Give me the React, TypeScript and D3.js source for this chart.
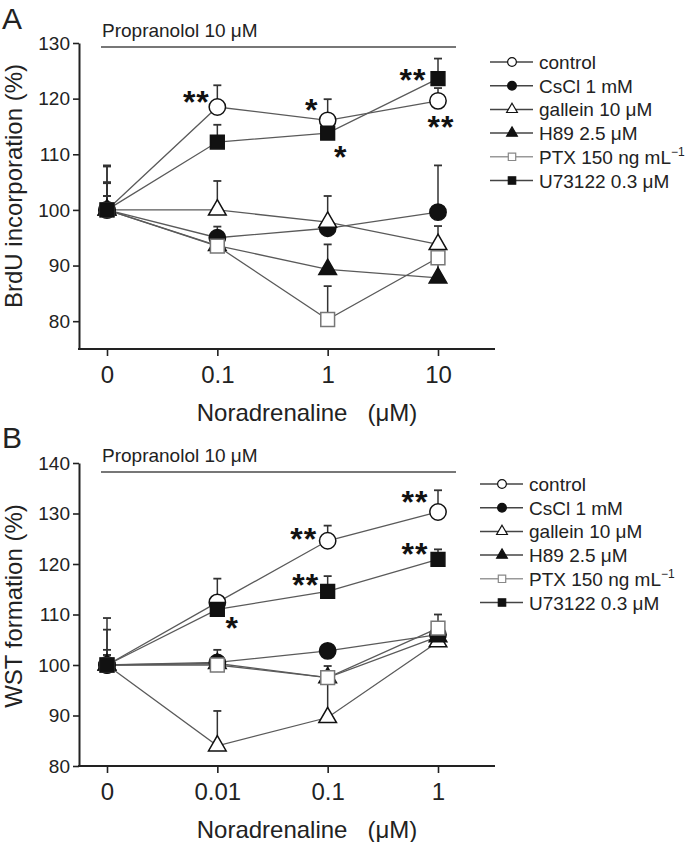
import { useEffect, useRef } from 'react'
import * as d3 from 'd3'

const W = 686
const H = 842
const FONT = 'Liberation Sans, Arial, Helvetica, sans-serif'

// series (same order in both panels)
const seriesNames = ['control', 'CsCl 1 mM', 'gallein 10 μM', 'H89 2.5 μM', 'PTX 150 ng mL', 'U73122 0.3 μM']
const seriesShapes = ['circle', 'circle', 'triangle', 'triangle', 'square', 'square']
const seriesFilled = [false, true, false, true, false, true]

// panel A: BrdU incorporation
const dosesA = ['0', '0.1', '1', '10']
const yTicksA = [80, 90, 100, 110, 120, 130]
const meanA = [
  [100, 118.5, 116.1, 119.6],
  [100, 95.0, 96.7, 99.6],
  [100, 100.0, 97.8, 93.8],
  [100, 93.6, 89.3, 87.8],
  [100, 93.5, 80.3, 91.4],
  [100, 112.2, 113.8, 123.6],
]
const errA = [
  [2.5, 3.9, 3.8, 2.3],
  [8.0, 2.0, 1.0, 8.4],
  [5.0, 5.2, 4.7, 3.3],
  [2.5, 1.5, 4.5, 3.9],
  [4.8, 1.0, 6.0, 1.0],
  [7.8, 3.1, 2.0, 3.6],
]
const starsA = [
  { series: 0, dose: '0.1', label: '**' },
  { series: 0, dose: '1', label: '*' },
  { series: 5, dose: '10', label: '**' },
  { series: 0, dose: '10', label: '**' },
  { series: 5, dose: '1', label: '*' },
]

// panel B: WST formation
const dosesB = ['0', '0.01', '0.1', '1']
const yTicksB = [80, 90, 100, 110, 120, 130, 140]
const meanB = [
  [100, 112.4, 124.6, 130.3],
  [100, 100.5, 102.8, 106.0],
  [100, 84.0, 89.6, 104.6],
  [100, 100.3, 97.5, 105.6],
  [100, 100.0, 97.5, 107.3],
  [100, 111.0, 114.6, 120.9],
]
const errB = [
  [9.3, 4.7, 3.0, 4.3],
  [3.0, 2.5, 1.0, 2.0],
  [2.0, 6.9, 9.0, 2.0],
  [2.0, 1.5, 1.0, 2.5],
  [1.0, 1.5, 2.3, 2.7],
  [7.0, 2.0, 3.0, 2.0],
]
const starsB = [
  { series: 0, dose: '0.1', label: '**' },
  { series: 0, dose: '1', label: '**' },
  { series: 5, dose: '1', label: '**' },
  { series: 5, dose: '0.1', label: '**' },
  { series: 5, dose: '0.01', label: '*' },
]

const symbolFor = (shape: string) =>
  shape === 'circle' ? d3.symbolCircle : shape === 'triangle' ? d3.symbolTriangle : d3.symbolSquare

export default function App() {
  const svgRef = useRef<SVGSVGElement>(null)

  useEffect(() => {
    if (!svgRef.current) return
    const svg = d3.select(svgRef.current)
    svg.selectAll('*').remove()
    svg.append('rect').attr('width', W).attr('height', H).attr('fill', '#fff')

    const panels = [
      {
        letter: 'A', letterY: 29, doses: dosesA, means: meanA, errs: errA, ticks: yTicksA,
        yDomain: [75, 130], yRange: [349, 43], yTitle: 'BrdU incorporation (%)', yTitleY: 186,
        propLineY: 47, propTextY: 37, stars: starsA,
        starOffsets: [[-21, -12], [-16, -17], [-25, -6], [3, 19], [13, 17]],
        legendX: 490, legendY: 62,
      },
      {
        letter: 'B', letterY: 448, doses: dosesB, means: meanB, errs: errB, ticks: yTicksB,
        yDomain: [80, 140], yRange: [766, 463], yTitle: 'WST formation (%)', yTitleY: 606,
        propLineY: 472, propTextY: 462, stars: starsB,
        starOffsets: [[-24, -9], [-23, -17], [-23, -12], [-22, -13], [15, 12]],
        legendX: 480, legendY: 484,
      },
    ]

    const axisLeft = 79
    const axisRight = 495

    panels.forEach((p) => {
      const g = svg.append('g').attr('font-family', FONT).attr('fill', '#222')
      const x = d3.scalePoint<string>().domain(p.doses).range([107, 438])
      const y = d3.scaleLinear().domain(p.yDomain).range(p.yRange)
      const xBase = p.yRange[0]

      // panel letter
      g.append('text').attr('x', 2).attr('y', p.letterY).attr('font-size', 30).text(p.letter)

      // propranolol bar
      g.append('line')
        .attr('x1', 101).attr('x2', 456).attr('y1', p.propLineY).attr('y2', p.propLineY)
        .attr('stroke', '#777').attr('stroke-width', 2)
      g.append('text').attr('x', 102).attr('y', p.propTextY).attr('font-size', 19)
        .text('Propranolol 10 μM')

      // y axis
      const yAxis = d3.axisLeft(y).tickValues(p.ticks).tickSize(6).tickSizeOuter(0).tickPadding(3)
      g.append('g')
        .attr('transform', `translate(${axisLeft},0)`)
        .call(yAxis)
        .call((a) => a.select('.domain').attr('stroke', '#222').attr('stroke-width', 2))
        .call((a) => a.selectAll('.tick line').attr('stroke', '#222').attr('stroke-width', 1.6))
        .call((a) => a.selectAll('.tick text').attr('fill', '#222').attr('font-size', 19).attr('font-family', FONT))

      // x axis
      const xAxis = d3.axisBottom(x).tickSize(7).tickPadding(10)
      g.append('g')
        .attr('transform', `translate(0,${xBase})`)
        .call(xAxis)
        .call((a) => a.select('.domain').remove())
        .call((a) => a.selectAll('.tick line').attr('stroke', '#222').attr('stroke-width', 1.6))
        .call((a) => a.selectAll('.tick text').attr('fill', '#222').attr('font-size', 24).attr('font-family', FONT))
      g.append('line')
        .attr('x1', axisLeft - 1).attr('x2', axisRight).attr('y1', xBase).attr('y2', xBase)
        .attr('stroke', '#222').attr('stroke-width', 2)

      g.append('text')
        .attr('x', 307).attr('y', xBase + 72)
        .attr('text-anchor', 'middle').attr('font-size', 24)
        .style('white-space', 'pre')
        .text('Noradrenaline   (μM)')

      g.append('text')
        .attr('transform', `translate(22,${p.yTitleY}) rotate(-90)`)
        .attr('text-anchor', 'middle').attr('font-size', 24)
        .text(p.yTitle)

      // connecting lines
      const line = d3.line<number>().x((_, i) => x(p.doses[i])!).y((d) => y(d))
      p.means.forEach((m) => {
        g.append('path').attr('d', line(m)).attr('fill', 'none')
          .attr('stroke', '#5a5a5a').attr('stroke-width', 1.3)
      })

      // error bars (upper only)
      p.means.forEach((m, si) => {
        m.forEach((v, i) => {
          const cx = x(p.doses[i])!
          const top = y(v + p.errs[si][i])
          g.append('line').attr('x1', cx).attr('x2', cx).attr('y1', y(v)).attr('y2', top)
            .attr('stroke', '#333').attr('stroke-width', 1.5)
          g.append('line').attr('x1', cx - 4).attr('x2', cx + 4).attr('y1', top).attr('y2', top)
            .attr('stroke', '#333').attr('stroke-width', 1.8)
        })
      })

      // markers
      p.means.forEach((m, si) => {
        const shape = seriesShapes[si]
        const size = shape === 'circle' ? 210 : shape === 'square' ? 190 : 135
        const sym = d3.symbol().type(symbolFor(shape)).size(size)
        m.forEach((v, i) => {
          g.append('path')
            .attr('d', sym())
            .attr('transform', `translate(${x(p.doses[i])},${y(v)})`)
            .attr('fill', seriesFilled[si] ? '#111' : '#fff')
            .attr('stroke', si === 4 ? '#777' : '#111')
            .attr('stroke-width', 1.5)
        })
      })

      // significance stars
      p.stars.forEach((s, k) => {
        const i = p.doses.indexOf(s.dose)
        const [dx, dy] = p.starOffsets[k]
        const cx = x(s.dose)! + dx
        const cy = y(p.means[s.series][i]) + dy
        g.append('text')
          .attr('x', cx).attr('y', cy + 18)
          .attr('text-anchor', 'middle').attr('font-size', 32)
          .attr('font-weight', 'bold')
          .attr('letter-spacing', 1)
          .attr('fill', '#111')
          .text(s.label)
      })

      // legend
      const legendStep = 23.7
      seriesNames.forEach((name, si) => {
        const ly = p.legendY + si * legendStep
        const lx = p.legendX
        g.append('line').attr('x1', lx).attr('x2', lx + 43).attr('y1', ly).attr('y2', ly)
          .attr('stroke', si === 4 ? '#999' : '#444').attr('stroke-width', 1.5)
        const shape = seriesShapes[si]
        const size = shape === 'circle' ? 60 : shape === 'square' ? 55 : 50
        g.append('path')
          .attr('d', d3.symbol().type(symbolFor(shape)).size(size)())
          .attr('transform', `translate(${lx + 22},${ly})`)
          .attr('fill', seriesFilled[si] ? '#111' : '#fff')
          .attr('stroke', si === 4 ? '#888' : '#111')
          .attr('stroke-width', 1.2)
        const t = g.append('text').attr('x', lx + 49).attr('y', ly + 7).attr('font-size', 19)
        t.append('tspan').text(name)
        if (si === 4) {
          t.append('tspan').attr('dy', -8).attr('font-size', 12).text('−1')
        }
      })
    })
  }, [])

  return (
    <svg
      ref={svgRef}
      width={W}
      height={H}
      style={{ position: 'absolute', left: 0, top: 0, display: 'block' }}
    />
  )
}
